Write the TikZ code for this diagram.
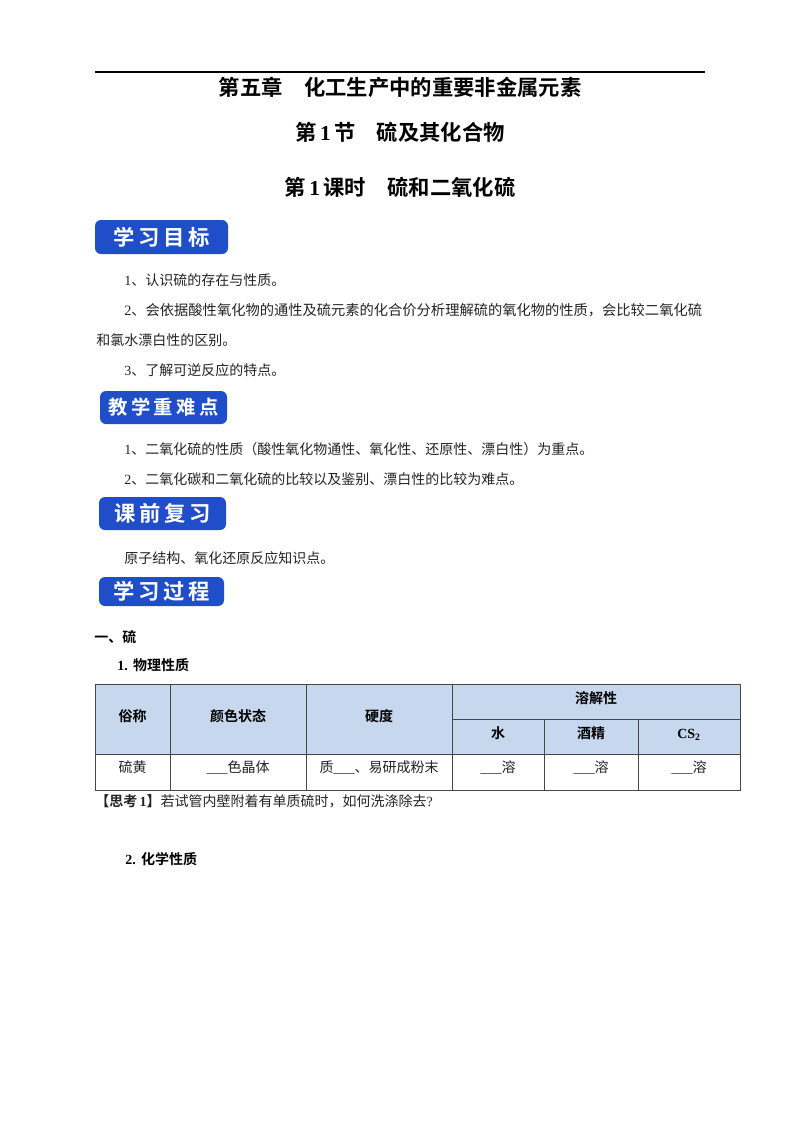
\documentclass[tikz,border=0pt]{standalone}
\usepackage{fontspec}
\setmainfont{Noto Sans CJK SC}[BoldFont={Noto Sans CJK SC Bold}]
\newfontfamily\latinfont{Liberation Serif}
\newfontfamily\badgefont[LetterSpace=18]{Noto Sans CJK SC Bold}
\newcommand{\lat}[1]{{\latinfont #1}}
\newcommand{\blank}{\lat{\_\_\_}}
\definecolor{badgeblue}{RGB}{31,78,200}
\definecolor{headblue}{RGB}{198,215,238}
\definecolor{tablegray}{RGB}{70,70,70}
\definecolor{bodygray}{RGB}{35,35,35}
\begin{document}
\begin{tikzpicture}
     [
     x=0.75pt, y=-0.75pt,
     titletext/.style={anchor=base, inner sep=0pt, font=\fontsize{16}{16}\selectfont\bfseries, text=black},
     bodytext/.style={anchor=base west, inner sep=0pt, font=\fontsize{10.5}{10.5}\selectfont, text=bodygray},
     subtext/.style={anchor=base west, inner sep=0pt, font=\fontsize{10.5}{10.5}\selectfont\bfseries, text=black},
     badge/.style={rectangle, rounded corners=4.5pt, fill=badgeblue, text=white, inner sep=0pt, font=\fontsize{16}{16}\selectfont\badgefont},
     headcell/.style={rectangle, draw=tablegray, fill=headblue, line width=0.7pt, inner sep=0pt, text height=8pt, text depth=5pt, font=\fontsize{10.5}{10.5}\selectfont\bfseries},
     bodycell/.style={rectangle, draw=tablegray, fill=white, line width=0.7pt, inner sep=0pt, text=bodygray, text height=8pt, text depth=7pt, font=\fontsize{10.5}{10.5}\selectfont},
     ]
 \useasboundingbox (0,0) rectangle (800,1132);
 % header
 \coordinate (ruleleft) at (95,72);
 \coordinate (ruleright) at (705,72);
 \draw[line width=1pt] (ruleleft) -- (ruleright);
 \node at (400,95) [titletext] (title1) {第五章\hspace{1em}化工生产中的重要非金属元素};
 \node at (400,140) [titletext] (title2) {第\,\lat{1}\,节\hspace{1em}硫及其化合物};
 \node at (400,195) [titletext] (title3) {第\,\lat{1}\,课时\hspace{1em}硫和二氧化硫};
 % goals
 \node at (161.5,237) [badge, minimum width=133*0.75pt, minimum height=34*0.75pt] (goalbadge) {学习目标};
 \node at (124,285) [bodytext] (goal1) {\lat{1}、认识硫的存在与性质。};
 \node at (124,315) [bodytext, font=\fontsize{10.7}{10.7}\selectfont] (goal2) {\lat{2}、会依据酸性氧化物的通性及硫元素的化合价分析理解硫的氧化物的性质，会比较二氧化硫};
 \node at (96,345) [bodytext] (goal2b) {和氯水漂白性的区别。};
 \node at (124,375) [bodytext] (goal3) {\lat{3}、了解可逆反应的特点。};
 % key points
 \node at (163.5,407.5) [badge, minimum width=127*0.75pt, minimum height=33*0.75pt, font=\fontsize{14.5}{14.5}\selectfont\badgefont] (keybadge) {教学重难点};
 \node at (124,454) [bodytext] (key1) {\lat{1}、二氧化硫的性质（酸性氧化物通性、氧化性、还原性、漂白性）为重点。};
 \node at (124,484) [bodytext] (key2) {\lat{2}、二氧化碳和二氧化硫的比较以及鉴别、漂白性的比较为难点。};
 % review
 \node at (162.5,513.5) [badge, minimum width=127*0.75pt, minimum height=33*0.75pt] (reviewbadge) {课前复习};
 \node at (124,563) [bodytext] (review1) {原子结构、氧化还原反应知识点。};
 \node at (161.5,591.5) [badge, minimum width=125*0.75pt, minimum height=29*0.75pt] (processbadge) {学习过程};
 % section
 \node at (94,642) [subtext] (sec1) {一、硫};
 \node at (117,670) [subtext] (sub1) {\lat{1.}\hspace{4pt}物理性质};
 % table
 \node at (132.5,719) [headcell, minimum width=75*0.75pt, minimum height=70*0.75pt] (cellname) {俗称};
 \node at (238,719) [headcell, minimum width=136*0.75pt, minimum height=70*0.75pt] (cellstate) {颜色状态};
 \node at (379,719) [headcell, minimum width=146*0.75pt, minimum height=70*0.75pt] (cellhard) {硬度};
 \node at (596,701.5) [headcell, minimum width=288*0.75pt, minimum height=35*0.75pt] (cellsol) {溶解性};
 \node at (498,736.5) [headcell, minimum width=92*0.75pt, minimum height=35*0.75pt] (cellwater) {水};
 \node at (591,736.5) [headcell, minimum width=94*0.75pt, minimum height=35*0.75pt] (cellalc) {酒精};
 \node at (689,736.5) [headcell, minimum width=102*0.75pt, minimum height=35*0.75pt] (cellcs) {\lat{CS\textsubscript{2}}};
 \node at (132.5,772) [bodycell, minimum width=75*0.75pt, minimum height=36*0.75pt] (valname) {硫黄};
 \node at (238,772) [bodycell, minimum width=136*0.75pt, minimum height=36*0.75pt] (valstate) {\blank 色晶体};
 \node at (379,772) [bodycell, minimum width=146*0.75pt, minimum height=36*0.75pt] (valhard) {质\blank 、易研成粉末};
 \node at (498,772) [bodycell, minimum width=92*0.75pt, minimum height=36*0.75pt] (valwater) {\blank 溶};
 \node at (591,772) [bodycell, minimum width=94*0.75pt, minimum height=36*0.75pt] (valalc) {\blank 溶};
 \node at (689,772) [bodycell, minimum width=102*0.75pt, minimum height=36*0.75pt] (valcs) {\blank 溶};
 % question
 \node at (95,806) [bodytext] (think1) {\textbf{【思考\,\lat{1}】}若试管内壁附着有单质硫时，如何洗涤除去\lat{?}};
 \node at (125,864) [subtext] (sub2) {\lat{2.}\hspace{4pt}化学性质};
 \end{tikzpicture}
\end{document}
